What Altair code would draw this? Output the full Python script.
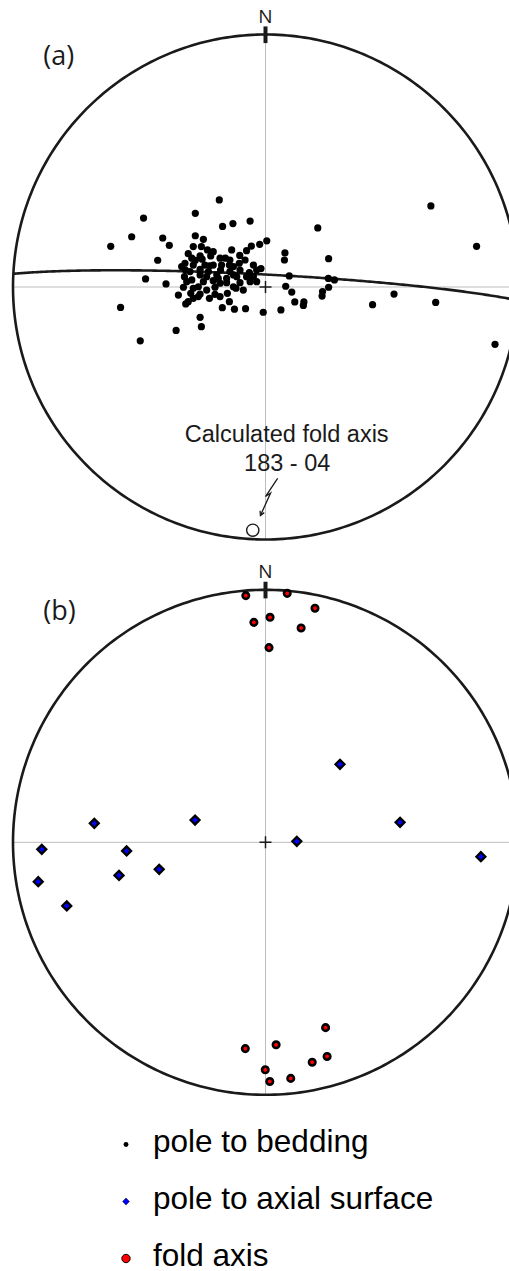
import numpy as np
import pandas as pd
import altair as alt

# ---------------- data: equal-area net coordinates (east, north), primitive radius = 1 -------------
# (a) poles to bedding
bed_e = [-0.183, -0.278, -0.483, 0.655, 0.836, -0.170, -0.129, -0.061, 0.207, -0.530,
         -0.613, -0.407, -0.381, -0.278, -0.246, -0.286, -0.254, 0.005, -0.023, -0.056,
         -0.075, -0.102, -0.134, -0.207, -0.230, -0.217, -0.306, -0.427, 0.077, 0.075,
         0.250, -0.278, -0.251, -0.180, -0.159, -0.319, -0.104, -0.222, -0.143, -0.018,
         -0.035, -0.064, -0.317, -0.259, -0.178, -0.141, 0.094, -0.475, 0.249, 0.273,
         -0.321, -0.292, -0.233, -0.207, -0.154, -0.114, -0.101, -0.061, -0.035, -0.394,
         -0.325, -0.286, -0.233, -0.117, 0.080, 0.250, -0.345, -0.296, -0.259, -0.200,
         -0.222, -0.151, 0.104, 0.226, 0.224, 0.509, 0.424, 0.674, -0.316, -0.286,
         -0.143, 0.116, 0.152, 0.150, -0.574, -0.171, -0.123, -0.079, -0.009, 0.061,
         -0.259, -0.254, -0.354, -0.496, 0.909, -0.193, -0.127, -0.259, -0.180, -0.075,
         -0.299, -0.141, -0.207, -0.246, -0.048, -0.101, -0.286, -0.226, -0.187, -0.266,
         -0.312, -0.332, -0.292, -0.240, -0.174, -0.127, -0.081, -0.048, -0.154, -0.127,
         -0.200, -0.266, -0.180, -0.088, -0.306, -0.259]
bed_n = [0.345, 0.292, 0.273, 0.321, 0.161, 0.240, 0.251, 0.261, 0.234, 0.199,
         0.161, 0.194, 0.165, 0.203, 0.189, 0.160, 0.160, 0.183, 0.169, 0.162,
         0.144, 0.125, 0.147, 0.140, 0.147, 0.123, 0.132, 0.106, 0.135, 0.107,
         0.112, 0.106, 0.110, 0.114, 0.114, 0.094, 0.094, 0.084, 0.087, 0.073,
         0.067, 0.057, 0.067, 0.070, 0.067, 0.061, 0.044, 0.032, 0.034, 0.028,
         0.041, 0.028, 0.041, 0.025, 0.017, 0.041, 0.017, 0.021, 0.021, 0.012,
         -0.001, -0.005, -0.012, -0.005, 0.003, -0.001, -0.032, -0.025, -0.028, -0.029,
         -0.045, -0.025, -0.020, -0.018, -0.036, -0.028, -0.070, -0.061, -0.067, -0.045,
         -0.058, -0.059, -0.059, -0.073, -0.081, -0.082, -0.088, -0.086, -0.100, -0.091,
         -0.120, -0.157, -0.172, -0.213, -0.227, 0.048, 0.048, 0.048, 0.015, 0.041,
         0.061, 0.107, 0.087, 0.021, 0.087, 0.067, 0.087, 0.061, 0.034, -0.038,
         0.021, 0.081, 0.114, 0.087, 0.087, 0.081, 0.107, 0.041, 0.034, 0.001,
         -0.001, 0.001, -0.038, -0.012, -0.058, 0.123]

# calculated fold axis (trend - plunge)
fold_trend = 183
fold_plunge = 4
fold_label = ["Calculated fold axis", "183 - 04"]

# (b) fold axes
fa_e = [-0.078, 0.086, 0.196, -0.046, 0.018, 0.141, 0.014,
        0.238, -0.080, 0.042, 0.244, 0.185, -0.001, 0.017, 0.100]
fa_n = [0.977, 0.986, 0.927, 0.871, 0.891, 0.849, 0.771,
        -0.734, -0.817, -0.802, -0.848, -0.871, -0.901, -0.947, -0.935]
# (b) poles to axial surface
ax_e = [-0.678, -0.279, 0.533, -0.886, -0.550, 0.124, 0.853, -0.900, -0.580, -0.421, -0.787, 0.295]
ax_n = [0.075, 0.088, 0.079, -0.028, -0.034, 0.004, -0.057, -0.156, -0.131, -0.107, -0.252, 0.309]

legend_labels = ["pole to bedding", "pole to axial surface", "fold axis"]
panel_labels = ["(a)", "(b)"]

# annotation arrow (net coordinates)
arrow_e = [0.048, 0.000, 0.020, -0.020]
arrow_n = [-0.758, -0.830, -0.816, -0.905]

# ---------------- geometry helpers ----------------
def equal_area(e, n, z):
    k = 1.0 / np.sqrt(1.0 + z)
    return e * k, n * k

def line_to_net(trend, plunge):
    t, p = np.radians(trend), np.radians(plunge)
    return equal_area(np.cos(p) * np.sin(t), np.cos(p) * np.cos(t), np.sin(p))

# great circle whose pole is the fold axis
dd = np.radians((fold_trend + 180) % 360)
dip = np.radians(90 - fold_plunge)
strike = dd - np.pi / 2
phi = np.linspace(0, np.pi, 241)
ge = np.cos(phi) * np.sin(strike) + np.sin(phi) * np.sin(dd) * np.cos(dip)
gn = np.cos(phi) * np.cos(strike) + np.sin(phi) * np.cos(dd) * np.cos(dip)
gz = np.sin(phi) * np.sin(dip)
gx, gy = equal_area(ge, gn, gz)
girdle = pd.DataFrame({"e": gx, "n": gy, "i": np.arange(len(gx))})

ang = np.linspace(0, 2 * np.pi, 361)
prim = pd.DataFrame({"e": np.sin(ang), "n": np.cos(ang), "i": np.arange(len(ang))})

fx, fy = line_to_net(fold_trend, fold_plunge)
fold_df = pd.DataFrame({"e": [fx], "n": [fy]})

bed_df = pd.DataFrame({"e": bed_e, "n": bed_n})
fa_df = pd.DataFrame({"e": fa_e, "n": fa_n})
ax_df = pd.DataFrame({"e": ax_e, "n": ax_n})
arrow_df = pd.DataFrame({"e": arrow_e, "n": arrow_n, "i": range(len(arrow_e))})
ann_df = pd.DataFrame({"t": fold_label, "e": [0.084, 0.086], "n": [-0.613, -0.728]})
axes_df = pd.DataFrame({"e": [-1, 0], "e2": [1, 0], "n": [0, -1], "n2": [0, 1]})

W = 509
XD = [-265.5 / 252.5, (W - 265.5) / 252.5]
INK = "#1a1a1a"


def net_layers(ydom, label):
    xs = alt.Scale(domain=XD, nice=False, zero=False)
    ys = alt.Scale(domain=ydom, nice=False, zero=False)
    X = lambda f: alt.X(f, type="quantitative", scale=xs, axis=None)
    Y = lambda f: alt.Y(f, type="quantitative", scale=ys, axis=None)
    one = pd.DataFrame({"k": [0]})
    layers = [
        alt.Chart(axes_df).mark_rule(color="#bdbdbd", strokeWidth=1, clip=True).encode(
            x=X("e"), x2="e2", y=Y("n"), y2="n2"),
        alt.Chart(prim).mark_line(color=INK, strokeWidth=2.6, clip=True).encode(
            x=X("e"), y=Y("n"), order="i:Q"),
        alt.Chart(one).mark_rule(color=INK, strokeWidth=4, clip=True).encode(
            x=alt.X(datum=0, type="quantitative", scale=xs, axis=None),
            y=alt.Y(datum=0.966, type="quantitative", scale=ys, axis=None),
            y2=alt.datum(1.032)),
        alt.Chart(one).mark_text(text="N", font="Open Sans", fontSize=19, color=INK,
                                 baseline="middle", clip=True).encode(
            x=alt.X(datum=0, type="quantitative", scale=xs, axis=None),
            y=alt.Y(datum=1.070, type="quantitative", scale=ys, axis=None)),
        alt.Chart(one).mark_text(text=label, font="Open Sans", fontSize=27, color=INK,
                                 align="left", baseline="middle", clip=True).encode(
            x=alt.X(datum=-0.880, type="quantitative", scale=xs, axis=None),
            y=alt.Y(datum=0.912, type="quantitative", scale=ys, axis=None)),
        alt.Chart(one).mark_point(shape="M-1,0H1M0,-1V1", size=144, filled=False,
                                  color=INK, strokeWidth=1.5, opacity=1, clip=True).encode(
            x=alt.X(datum=0, type="quantitative", scale=xs, axis=None),
            y=alt.Y(datum=0, type="quantitative", scale=ys, axis=None)),
    ]
    return layers, X, Y


# ---------------- panel (a) ----------------
ydomA = [(287 - 555) / 252.5, 287 / 252.5]
la, XA, YA = net_layers(ydomA, panel_labels[0])
la += [
    alt.Chart(girdle).mark_line(color=INK, strokeWidth=2.6, clip=True).encode(
        x=XA("e"), y=YA("n"), order="i:Q"),
    alt.Chart(bed_df).mark_point(shape="circle", filled=True, color="black", size=52,
                                 opacity=1, clip=True).encode(x=XA("e"), y=YA("n")),
    alt.Chart(fold_df).mark_point(shape="circle", filled=False, color=INK, size=150,
                                  strokeWidth=1.4, opacity=1, clip=True).encode(
        x=XA("e"), y=YA("n")),
    alt.Chart(arrow_df).mark_line(color=INK, strokeWidth=1.3, clip=True).encode(
        x=XA("e"), y=YA("n"), order="i:Q"),
    alt.Chart(arrow_df.tail(1)).mark_point(shape="M-0.55,1L0,0L0.55,1", filled=False,
                                           color=INK, size=70, strokeWidth=1.3, angle=204,
                                           opacity=1, clip=True).encode(
        x=XA("e"), y=YA("n")),
    alt.Chart(ann_df).mark_text(font="Liberation Sans", fontSize=23.5, color=INK,
                                align="center", baseline="alphabetic", clip=True).encode(
        x=XA("e"), y=YA("n"), text="t:N"),
]
panelA = alt.layer(*la).properties(width=W, height=555)

# ---------------- panel (b) ----------------
ydomB = [(842.3 - 1110) / 252.5, (842.3 - 555) / 252.5]
lb, XB, YB = net_layers(ydomB, panel_labels[1])
lb += [
    alt.Chart(ax_df).mark_point(shape="diamond", filled=True, fill="#0000ff", stroke="black",
                                strokeWidth=2.3, size=80, opacity=1, clip=True).encode(
        x=XB("e"), y=YB("n")),
    alt.Chart(fa_df).mark_point(shape="circle", filled=True, fill="#ff0000", stroke="black",
                                strokeWidth=2.6, size=42, opacity=1, clip=True).encode(
        x=XB("e"), y=YB("n")),
]
panelB = alt.layer(*lb).properties(width=W, height=555)

# ---------------- legend ----------------
leg_df = pd.DataFrame({"label": legend_labels})
rows = alt.Scale(type="point", domain=legend_labels, range=[41.5, 155.5], padding=0)
leg_sym = alt.Chart(leg_df).mark_point(filled=True, stroke="black", opacity=1, yOffset=-7).encode(
    x=alt.value(126),
    y=alt.Y("label:N", scale=rows, axis=None),
    shape=alt.Shape("label:N", scale=alt.Scale(domain=legend_labels,
                                               range=["circle", "diamond", "circle"]), legend=None),
    fill=alt.Fill("label:N", scale=alt.Scale(domain=legend_labels,
                                             range=["black", "#0000ff", "#ff0000"]), legend=None),
    size=alt.Size("label:N", scale=alt.Scale(domain=legend_labels, range=[24, 70, 36]), legend=None),
    strokeWidth=alt.StrokeWidth("label:N", scale=alt.Scale(domain=legend_labels, range=[0, 1, 1]),
                                legend=None),
)
leg_txt = alt.Chart(leg_df).mark_text(font="Liberation Sans", fontSize=31.5, color="black",
                                      align="left", baseline="alphabetic").encode(
    x=alt.value(153),
    y=alt.Y("label:N", scale=rows, axis=None),
    text="label:N",
)
legend = alt.layer(leg_sym, leg_txt).properties(width=W, height=161)

chart = alt.vconcat(panelA, panelB, legend, spacing=0, bounds="flush", padding=0).configure_view(
    stroke=None)

chart.save("out.html", embed_options={"renderer": "svg", "actions": False})
